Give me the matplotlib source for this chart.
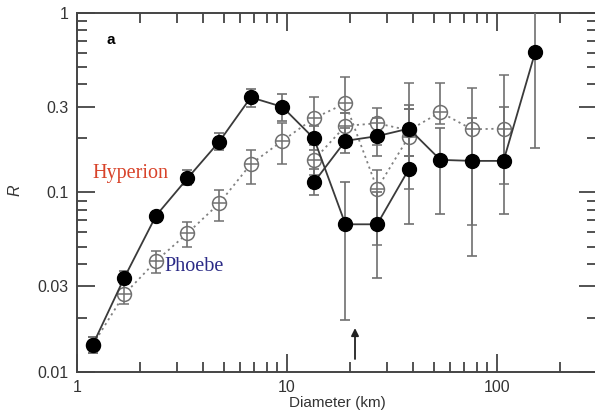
# crater ratio R vs diameter, Hyperion and Phoebe

import numpy as np
import matplotlib.pyplot as plt
from matplotlib.ticker import FixedLocator, NullFormatter

# bin centres (km), root-2 spacing
diam = [1.19, 1.68, 2.38, 3.36, 4.76, 6.73, 9.51, 13.45, 19.0, 26.9, 38.1, 53.8, 76.1, 107.6, 152.2]

# Hyperion, first set (bins 0..10)
hyp_a = [0.0142, 0.0335, 0.0743, 0.120, 0.192, 0.339, 0.300, 0.200, 0.0665, 0.0665, 0.135]
hyp_a_lo = [0.0127, 0.0308, 0.0696, 0.110, 0.173, 0.301, 0.250, 0.172, 0.0195, 0.0332, 0.0668]
hyp_a_hi = [0.0157, 0.0365, 0.0782, 0.133, 0.214, 0.376, 0.352, 0.235, 0.114, 0.100, 0.292]

# Hyperion, second set (bins 7..14)
hyp_b = [0.114, 0.194, 0.206, 0.227, 0.152, 0.150, 0.150, 0.604]
hyp_b_lo = [0.097, 0.166, 0.159, 0.159, 0.0756, 0.044, 0.0759, 0.178]
hyp_b_hi = [0.135, 0.230, 0.260, 0.307, 0.228, 0.259, 0.300, 1.2]

# Phoebe, first set (bins 0..10)
pho_a = [0.0142, 0.0271, 0.0415, 0.0593, 0.087, 0.144, 0.194, 0.259, 0.314, 0.105, 0.205]
pho_a_lo = [0.0127, 0.0238, 0.0357, 0.0495, 0.0697, 0.112, 0.144, 0.200, 0.277, 0.051, 0.105]
pho_a_hi = [0.0157, 0.0312, 0.0474, 0.0688, 0.103, 0.172, 0.245, 0.339, 0.438, 0.133, 0.409]

# Phoebe, second set (bins 7..13)
pho_b = [0.152, 0.235, 0.243, 0.222, 0.280, 0.225, 0.227]
pho_b_lo = [0.125, 0.190, 0.184, 0.159, 0.240, 0.0656, 0.112]
pho_b_hi = [0.185, 0.277, 0.294, 0.292, 0.410, 0.380, 0.452]

arrow_d = 21.1

plt.rcParams['font.family'] = ['Liberation Sans', 'DejaVu Sans']

fig = plt.figure(figsize=(5.95, 4.13), dpi=100)
ax = fig.add_axes([0.1294, 0.0993, 0.874, 0.8692])

line_col = '#3a3a3a'
err_col = '#707070'


def draw(x, y, lo, hi, filled):
    x = np.array(x)
    y = np.array(y)
    yerr = [y - np.array(lo), np.array(hi) - y]
    if filled:
        ax.errorbar(x, y, yerr=yerr, fmt='-', color=line_col, ecolor=err_col,
                    lw=1.3, elinewidth=1.2, capsize=3.5, capthick=1.2, zorder=3,
                    marker='o', ms=10, mfc='black', mec='black')
    else:
        ax.errorbar(x, y, yerr=yerr, fmt='-', color='#808080', ecolor=err_col,
                    lw=1.3, ls=(0, (1.2, 2)), elinewidth=1.2, capsize=3.5,
                    capthick=1.2, zorder=2, marker='o', ms=10, mfc='white',
                    mec='#707070', mew=1.1)
        ax.plot(x, y, ls='none', marker='|', ms=10, color='#707070', mew=1.1, zorder=2.1)
        ax.plot(x, y, ls='none', marker='_', ms=10, color='#707070', mew=1.1, zorder=2.1)


draw(diam[:11], pho_a, pho_a_lo, pho_a_hi, False)
draw(diam[7:14], pho_b, pho_b_lo, pho_b_hi, False)
draw(diam[:11], hyp_a, hyp_a_lo, hyp_a_hi, True)
draw(diam[7:], hyp_b, hyp_b_lo, hyp_b_hi, True)

ax.annotate('', xy=(arrow_d, 0.0182), xytext=(arrow_d, 0.0114),
            arrowprops=dict(arrowstyle='-|>', color='#222222', lw=1.3, mutation_scale=11))

ax.set_xscale('log')
ax.set_yscale('log')
ax.set_xlim(1, 300)
ax.set_ylim(0.01, 1)

ax.xaxis.set_major_locator(FixedLocator([1, 10, 100]))
ax.set_xticklabels(['1', '10', '100'])
ax.xaxis.set_minor_locator(FixedLocator([2, 3, 4, 5, 6, 7, 8, 9, 20, 30, 40, 50, 60, 70, 80, 90, 200]))
ax.xaxis.set_minor_formatter(NullFormatter())
ax.yaxis.set_major_locator(FixedLocator([0.01, 0.03, 0.1, 0.3, 1]))
ax.set_yticklabels(['0.01', '0.03', '0.1', '0.3', '1'])
ax.yaxis.set_minor_locator(FixedLocator([0.02, 0.04, 0.05, 0.06, 0.07, 0.08, 0.09,
                                         0.2, 0.4, 0.5, 0.6, 0.7, 0.8, 0.9]))
ax.yaxis.set_minor_formatter(NullFormatter())

ax.tick_params(which='both', direction='in', top=True, right=True,
               color='#444444', width=1.3, labelsize=11.5, labelcolor='#333333')
ax.tick_params(which='major', length=13, pad=6)
ax.tick_params(which='minor', length=7)
for s in ax.spines.values():
    s.set_color('#444444')
    s.set_linewidth(1.4)

ax.set_xlabel('Diameter (km)', fontsize=11, color='#333333')
ax.xaxis.set_label_coords(0.5, -0.066)
ax.set_ylabel('R', fontsize=11.5, color='#333333', style='italic')
ax.yaxis.set_label_coords(-0.105, 0.507)

ax.text(1.79, 0.128, 'Hyperion', color='#d8432a', fontsize=14.5,
        family=['Liberation Serif', 'DejaVu Serif'], ha='center', va='center')
ax.text(3.61, 0.0385, 'Phoebe', color='#2b2a86', fontsize=14.5,
        family=['Liberation Serif', 'DejaVu Serif'], ha='center', va='center')
ax.text(1.45, 0.707, 'a', fontsize=11, fontweight='bold', ha='center', va='center')

plt.savefig('out.png', dpi=100)
